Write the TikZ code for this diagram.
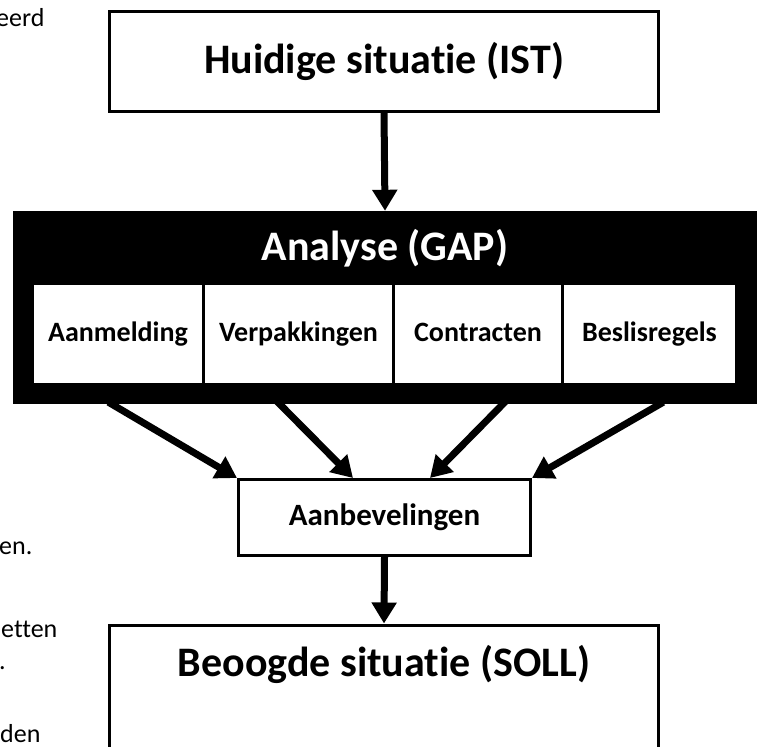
\documentclass[tikz,border=0pt]{standalone}
\usepackage{fontspec}
\setmainfont{Carlito}[Ligatures={NoCommon}]
\usetikzlibrary{arrows.meta}
\begin{document}
\begin{tikzpicture}[x=1pt,y=-1pt,
  box/.style={draw=black, line width=3pt, fill=white, inner sep=0pt},
  bigtext/.style={font=\bfseries\fontsize{42}{42}\selectfont},
  celltext/.style={font=\bfseries\fontsize{28}{28}\selectfont},
  cell/.style={fill=white, inner sep=0pt, minimum height=98pt, celltext,
    text height=20pt, text depth=6pt},
  flow/.style={line width=7pt, -{Triangle[length=21pt,width=24pt]}},
  sidetext/.style={anchor=base west, inner sep=0pt, font=\fontsize{26}{26}\selectfont}]
\useasboundingbox (0,0) rectangle (759,746);
\clip (0,0) rectangle (759,746);

% fragments of the surrounding body text
\node[sidetext] (t1) at (-4,27) {eerd};
\node[sidetext] (t2) at (-1,554) {en.};
\node[sidetext] (t3) at (1,637) {etten};
\node[sidetext] (t4) at (-1,669) {.};
\node[sidetext] (t5) at (0,742) {den};

% current situation
\node[box, bigtext, minimum width=549pt, minimum height=100pt] (ist) at (384,61.5) {Huidige situatie (IST)};

% gap analysis block
\node[fill=black, inner sep=0pt, minimum width=744pt, minimum height=193pt] (gap) at (385,307.5) {};
\node[text=white, bigtext, inner sep=0pt] (gaptitle) at (385,248) {Analyse (GAP)};
\node[cell, minimum width=168pt] (c1) at (118,334) {Aanmelding};
\node[cell, minimum width=187pt] (c2) at (298.5,334) {Verpakkingen};
\node[cell, minimum width=166pt] (c3) at (478,334) {Contracten};
\node[cell, minimum width=171pt] (c4) at (649.5,334) {Beslisregels};

% recommendations
\node[box, font=\bfseries\fontsize{31}{31}\selectfont, minimum width=292pt, minimum height=76pt] (adv) at (384.5,517.5) {Aanbevelingen};

% target situation (runs on past the lower edge)
\node[box, anchor=north, minimum width=549pt, minimum height=150pt] (soll) at (384,623.5) {};
\node[bigtext, inner sep=0pt] (solltext) at (384,664) {Beoogde situatie (SOLL)};

% connectors
\draw[flow] (ist.south) -- (gap.north);
\draw[flow, shorten <=-4pt] ([xshift=99pt]gap.south west) -- (adv.north west);
\draw[flow, shorten <=-4pt] ([xshift=267pt]gap.south west) -- ([xshift=116pt]adv.north west);
\draw[flow, shorten <=-4pt] ([xshift=490pt]gap.south west) -- ([xshift=193pt]adv.north west);
\draw[flow, shorten <=-4pt] ([xshift=647pt]gap.south west) -- (adv.north east);
\draw[flow] (adv.south) -- (soll.north);
\end{tikzpicture}
\end{document}
